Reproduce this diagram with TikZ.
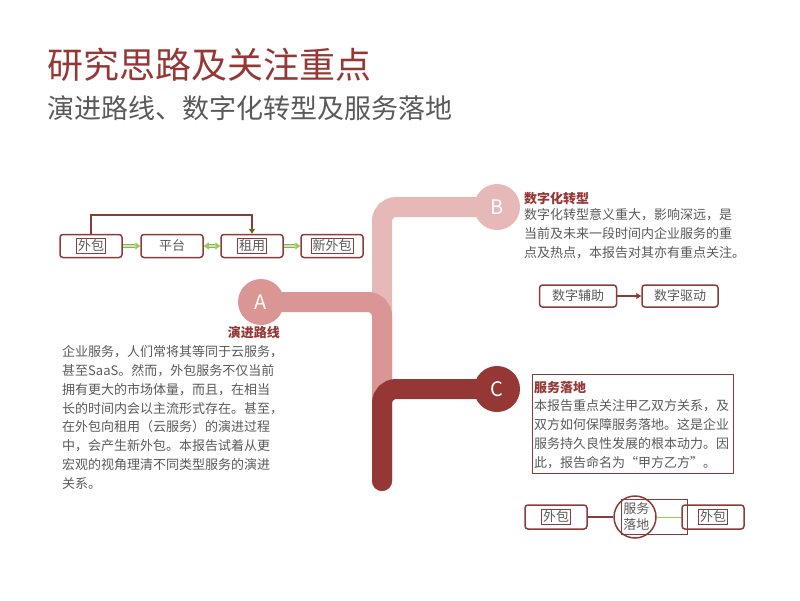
\documentclass[tikz,border=0pt]{standalone}
\usepackage{fontspec}
\newfontfamily\cjk{Noto Sans CJK SC}
\usetikzlibrary{arrows.meta,backgrounds}
\definecolor{darkred}{HTML}{953735}
\definecolor{midpink}{HTML}{D99694}
\definecolor{lightpink}{HTML}{E6B9B8}
\definecolor{txtgray}{HTML}{595959}
\definecolor{boxred}{HTML}{8C3B3B}
\definecolor{leaf}{HTML}{92D050}
\tikzset{
  box/.style={draw=boxred,line width=1.5pt,rounded corners=3pt,minimum width=62pt,
    minimum height=23pt,inner sep=0pt,text=txtgray,font=\cjk\fontsize{13}{15}\selectfont},
  tag/.style={draw=boxred,line width=0.5pt,inner sep=1.5pt,text=txtgray,
    font=\cjk\fontsize{13}{15}\selectfont},
  hub/.style={circle,minimum size=46pt,inner sep=0pt,text=white,
    font=\cjk\fontsize{20}{22}\selectfont},
  trunk/.style={line width=20pt,rounded corners=14pt,line cap=round},
  flow/.style={leaf!60!gray,double=leaf!45,double distance=2pt,line width=0.8pt,
    -{Triangle[length=5pt,width=7pt,color=leaf]}},
  link/.style={boxred,line width=1.5pt},
  para/.style={inner sep=0pt,align=left,text=txtgray,
    font=\cjk\fontsize{13}{18.8}\selectfont},
  head/.style={inner sep=0pt,text=darkred,font=\cjk\bfseries\fontsize{13}{15}\selectfont}
}
\begin{document}
\begin{tikzpicture}[x=1pt,y=-1pt]
	\useasboundingbox (0,0) rectangle (800,600);
	% titles
	\node[anchor=west,text=darkred,font=\cjk\fontsize{36}{40}\selectfont] (title) at (44,65) {研究思路及关注重点};
	\node[anchor=west,text=txtgray,font=\cjk\fontsize{27}{30}\selectfont] (subtitle) at (44,108) {演进路线、数字化转型及服务落地};
	% evolution chain
	\node[box] (wb1) at (91,246) {};
	\node[box] (plat) at (172,246) {平台};
	\node[box] (rent) at (252,246) {};
	\node[box] (nwb) at (332,246) {};
	\foreach \n/\t in {wb1/外包,rent/租用,nwb/新外包} {
		\node[tag] (\n t) at (\n) {\t};
	}
	\draw[flow] (wb1) -- (plat);
	\draw[flow,{Triangle[length=5pt,width=7pt,color=leaf]}-{Triangle[length=5pt,width=7pt,color=leaf]}] (plat) -- (rent);
	\draw[flow] (rent) -- (nwb);
	\draw[link,-{Triangle[length=5pt,width=6pt,color=olive!70!black]}] (wb1.north) -- ++(0,-19) -| (rent.north);
	% hubs and trunk
	\node[hub,fill=midpink] (A) at (261,302) {A};
	\node[hub,fill=lightpink] (B) at (497,207) {B};
	\node[hub,fill=darkred] (C) at (497,389) {C};
	\coordinate (bot) at (382,481);
	\begin{scope}[on background layer]
		\draw[trunk,lightpink] (B.center) -| (bot);
		\draw[trunk,midpink] (A.center) -| (bot);
		\draw[trunk,darkred] (C.center) -| (bot);
	\end{scope}
	% A
	\node[head,anchor=base east] (Ahead) at (280,337) {演进路线};
	\node[para,anchor=north west] (Abody) at (62,345.5) {企业服务，人们常将其等同于云服务，\\甚至SaaS。然而，外包服务不仅当前\\拥有更大的市场体量，而且，在相当\\长的时间内会以主流形式存在。甚至，\\在外包向租用（云服务）的演进过程\\中，会产生新外包。本报告试着从更\\宏观的视角理清不同类型服务的演进\\关系。};
	% B
	\node[head,anchor=base west] (Bhead) at (524,203) {数字化转型};
	\node[para,anchor=north west] (Bbody) at (524,208.5) {数字化转型意义重大，影响深远，是\\当前及未来一段时间内企业服务的重\\点及热点，本报告对其亦有重点关注。};
	\node[box,minimum width=77pt,minimum height=22pt] (aid) at (578,296) {数字辅助};
	\node[box,minimum width=76pt,minimum height=22pt] (drive) at (680,296) {数字驱动};
	\draw[link,-{Triangle[length=5pt,width=6pt]}] (aid) -- (drive);
	% C
	\node[draw=boxred,line width=0.7pt,minimum width=201pt,minimum height=99pt,inner sep=0pt,anchor=north west] (Cframe) at (532,374) {};
	\node[head,anchor=base west] (Chead) at (534,392) {服务落地};
	\node[para,anchor=north west] (Cbody) at (534,399.5) {本报告重点关注甲乙双方关系，及\\双方如何保障服务落地。这是企业\\服务持久良性发展的根本动力。因\\此，报告命名为“甲方乙方”。};
	% landing
	\node[box,minimum height=24pt] (wb2) at (556,517) {};
	\node[box,minimum height=24pt] (wb3) at (713,517) {};
	\node[tag] (wb2t) at (wb2) {外包};
	\node[tag] (wb3t) at (wb3) {外包};
	\node[circle,draw=boxred,line width=1.5pt,minimum size=42pt,inner sep=0pt] (svc) at (635,517) {};
	\node[tag,anchor=west,text width=62pt,align=left,minimum height=35pt,inner sep=2pt,
		font=\cjk\fontsize{13}{16}\selectfont] (svct) at (621,516.5) {服务\\落地};
	\draw[link] (wb2) -- (svc);
	\draw[leaf,line width=1pt] (svc.east) -- (wb3.west);
\end{tikzpicture}
\end{document}
